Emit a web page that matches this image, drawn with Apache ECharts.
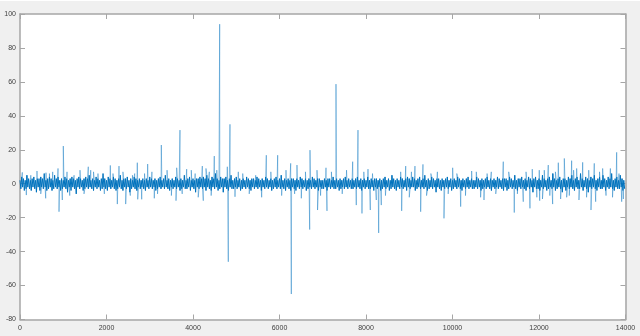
<!DOCTYPE html>
<html>
<head>
<meta charset="utf-8">
<script src="https://cdn.jsdelivr.net/npm/echarts@6/dist/echarts.min.js"></script>
<style>
html,body{margin:0;padding:0;background:#f0f0f0;}
#chart{width:640px;height:336px;}
</style>
</head>
<body>
<div id="chart"></div>
<script>
// x axis ticks / y axis ticks
const xTicks = [0, 2000, 4000, 6000, 8000, 10000, 12000, 14000];
const yTicks = [-80, -60, -40, -20, 0, 20, 40, 60, 80, 100];
// sample step of the base noise trace
const noiseStep = 20;
// base noise band (read as the envelope of the dense trace)
const noise = [
2,-3,4,-2,3,-4,2,-3,5,-2,3,-3,2,-4,3,-2,4,-3,2,-5,3,-2,3,-4,4,-2,3,-3,6,-2,2,-4,3,-3,4,
-2,3,-4,2,-3,5,-2,3,-3,4,-2,2,-4,3,-3,2,-2,4,-3,3,-5,2,-2,3,-4,4,-2,3,-3,2,-6,3,-2,4,-3,
3,-2,2,-4,3,-3,4,-2,3,-3,5,-2,2,-3,3,-4,2,-2,4,-3,3,-2,2,-4,3,-3,6,-2,3,-3,2,-4,4,-2,3,
-3,2,-2,4,-3,3,-4,2,-3,3,-2,5,-3,2,-4,3,-2,3,-3,4,-2,2,-5,3,-3,2,-2,4,-3,3,-4,2,-2,3,-3,
2,-2,3,-3,2,-4,3,-2,2,-3,4,-2,3,-3,2,-2,3,-4,2,-3,3,-2,4,-3,2,-2,3,-3,5,-2,2,-3,3,-4,2,
-2,3,-3,2,-2,4,-3,3,-2,2,-4,3,-3,2,-2,5,-3,2,-3,3,-2,4,-4,2,-2,3,-3,2,-5,3,-2,3,-3,4,-2,
3,-3,4,-2,3,-4,5,-2,3,-3,2,-4,4,-2,3,-3,6,-2,3,-4,2,-3,4,-2,3,-5,3,-2,4,-3,2,-4,3,-2,5,
-3,2,-3,3,-2,4,-3,2,-2,3,-4,2,-3,3,-2,2,-3,4,-2,3,-3,2,-4,3,-2,3,-3,2,-2,4,-3,3,-2,2,-4,
3,-2,2,-3,4,-2,3,-3,2,-2,3,-4,2,-3,3,-2,4,-3,2,-2,3,-3,5,-2,2,-3,3,-4,2,-2,3,-3,2,-4,3,
-2,3,-3,2,-4,3,-2,2,-3,4,-2,3,-3,2,-2,3,-4,2,-3,3,-2,2,-3,4,-2,3,-3,2,-2,3,-4,3,-2,2,-3,
2,-3,3,-2,2,-4,3,-2,3,-3,2,-2,4,-3,2,-3,3,-2,2,-4,3,-3,2,-2,3,-3,4,-2,2,-3,3,-2,2,-3,3,
-3,2,-2,3,-3,4,-2,2,-3,3,-4,2,-2,3,-3,2,-2,4,-3,2,-3,3,-2,2,-4,3,-2,3,-3,2,-2,3,-4,2,-3,
3,-2,4,-3,2,-2,3,-4,2,-3,5,-2,3,-3,2,-4,3,-2,2,-3,4,-2,3,-3,2,-2,3,-4,4,-2,3,-3,2,-2,4,
-2,3,-4,2,-3,3,-2,4,-3,2,-2,3,-3,5,-2,2,-4,3,-3,2,-2,4,-3,3,-2,2,-5,3,-2,3,-3,2,-4,3,-2,
2,-3,3,-2,4,-3,2,-2,3,-4,2,-3,3,-2,2,-3,4,-2,3,-3,2,-4,3,-2,2,-3,3,-2,4,-3,2,-2,3,-3,2,
-3,2,-2,4,-3,3,-2,2,-4,3,-3,2,-2,3,-3,4,-2,2,-3,3,-4,2,-2,3,-3,2,-2,4,-3,3,-2,2,-3,3,-4,
3,-2,3,-4,2,-3,4,-2,3,-3,2,-2,5,-3,2,-4,3,-2,3,-3,4,-2,2,-3,3,-4,2,-2,4,-3,3,-2,2,-5,3,
-2,4,-3,2,-3,3,-4,2,-2,5,-3,3,-2,2,-4,3,-3,4,-2,2,-3,6,-2,3,-4,2,-3,3,-2,4,-3,2,-5,3,-2,
3,-4,2,-2,4,-3,3,-2,5,-3,2,-4,3,-2,4,-3,2,-3,6,-2,3,-4,2,-2,4,-3,3,-5,2,-2,4,-3,3,-2,5,
-3,2,-4,3,-2,4,-3,2,-3,5,-2,3,-4,2,-2,4,-3,3,-2,6,-3,2,-4,3,-2,4,-3,2,-3,5,-2,3,-4,2,-3
];
// isolated spikes: sample index and value
const spikeX = [53,146,393,594,601,756,879,902,978,1001,1087,1387,1579,1635,1803,2088,2250,2289,2444,2652,2712,2722,2814,2952,3105,3267,3607,3623,3699,3854,3960,4215,4238,4377,4492,4617,4793,4816,4855,4971,5047,5588,5695,5958,6259,6273,6404,6504,6698,6705,6867,6880,7075,7098,7306,7692,7775,7815,7907,8046,8099,8238,8293,8353,8802,8825,8918,9132,9264,9317,9803,10004,10189,10443,10728,10897,11174,11428,11636,11791,11844,12006,12016,12122,12214,12316,12446,12585,12640,12755,12871,12924,13010,13202,13278,13310,13472,13796,13912];
const spikeY = [6.7,-6.7,7.5,-8.6,6.5,7,9,-16.5,-9.6,22.2,7,8,10,8,6,10.8,-12,10.4,-12,6,12.4,-9.2,-9.2,11.6,-8.6,22.8,-10,9.4,31.6,8.6,8,10.4,-10,7,16.3,94,10,-46,35,-7.7,7,-8,16.8,16.8,12,-65,11,-8.6,-27,19.8,8,-15.5,9.4,-16,58.7,13,-12.6,31.6,-17.5,8.6,-15.5,-9.6,-29,-12.6,7,-16,10.4,10.4,-16.5,11.4,-20.4,9.4,-13.5,7.5,-9.6,7,13,-17,-10.6,-14.5,8.6,8,-10,8,11,-12,12.4,14.9,-8,13.6,9,-9.6,12.6,-15.5,12,-10.6,9,18.5,-10.6];
// smaller excursions just outside the band
const minorX = [250,480,680,1150,1250,1480,1700,1950,2150,2380,2550,2600,2880,3050,3180,3400,3500,3750,4050,4120,4300,4420,4550,4700,5150,5300,5450,5800,6050,6150,6350,6600,6950,7200,7450,7550,7950,8150,8450,8600,9000,9050,9400,9500,9650,9900,10100,10300,10550,10650,10800,11000,11300,11500,11700,11950,12080,12250,12380,12500,12700,12800,13100,13150,13400,13550,13650,13700,13850,13950];
const minorY = [5,-6,6,-7,5,-6,7,-6,6,7,-7,5,6,7,-6,8,-7,-6,6,-8,9,-7,8,-6,6,-6,5,7,-7,8,-6,7,-7,7,-6,8,7,6,-7,6,-8,7,-7,6,7,-6,6,-7,7,-8,6,-6,7,-6,7,-8,-9,-7,7,-9,-7,8,-8,8,7,-7,9,-8,6,-9];

// dense band
const bandPts = noise.map((v, i) => [i * noiseStep, v]);
// spikes rising out of the band: each drawn from the band level at its neighbours
function spikeSeg(xs, ys) {
  const out = [];
  for (let i = 0; i < xs.length; i++) {
    const k = Math.floor(xs[i] / noiseStep);
    const a = bandPts[k], b = bandPts[Math.min(k + 1, bandPts.length - 1)];
    out.push(a, [xs[i], ys[i]], b, null);
  }
  return out;
}
const spikePts = spikeSeg(spikeX, spikeY).concat(spikeSeg(minorX, minorY));

const axisCol = '#a6a6a6';
const labelCol = '#404040';
const font = 'Liberation Sans, Arial, sans-serif';
const xMin = xTicks[0], xMax = xTicks[xTicks.length - 1], xInt = xTicks[1] - xTicks[0];
const yMin = yTicks[0], yMax = yTicks[yTicks.length - 1], yInt = yTicks[1] - yTicks[0];
function xAx(pos, show) {
  return {type:'value', position:pos, min:xMin, max:xMax, interval:xInt,
    axisLine:{show:true, onZero:false, lineStyle:{color:axisCol, width:1.5}},
    axisTick:{show:true, inside:true, length:5, lineStyle:{color:axisCol, width:1}},
    axisLabel:{show:show, color:labelCol, fontSize:7, fontFamily:font, margin:5, formatter:v => String(v)},
    splitLine:{show:false}};
}
function yAx(pos, show) {
  return {type:'value', position:pos, min:yMin, max:yMax, interval:yInt,
    axisLine:{show:true, onZero:false, lineStyle:{color:axisCol, width:1.5}},
    axisTick:{show:true, inside:true, length:5, lineStyle:{color:axisCol, width:1}},
    axisLabel:{show:show, color:labelCol, fontSize:7, fontFamily:font, margin:4, formatter:v => String(v)},
    splitLine:{show:false}};
}
const chart = echarts.init(document.getElementById('chart'), null, {renderer:'canvas'});
chart.setOption({
  animation:false,
  backgroundColor:'#f0f0f0',
  grid:{left:20, top:14, right:14.5, bottom:16.5, show:true, backgroundColor:'#ffffff', borderWidth:0},
  xAxis:[xAx('bottom', true), xAx('top', false)],
  yAxis:[yAx('left', true), yAx('right', false)],
  graphic:[{type:'rect', shape:{x:0, y:0, width:640, height:1}, style:{fill:'#ffffff'}, silent:true}],
  series:[
    {type:'line', xAxisIndex:0, yAxisIndex:0, data:spikePts, connectNulls:false, showSymbol:false, symbol:'none',
     sampling:null, lineStyle:{color:'#0072BD', width:0.7, opacity:0.6}, itemStyle:{color:'#0072BD'}, z:2},
    {type:'line', xAxisIndex:0, yAxisIndex:0, data:bandPts, showSymbol:false, symbol:'none',
     sampling:null, lineStyle:{color:'#0072BD', width:1}, itemStyle:{color:'#0072BD'}, z:3}
  ]
});
</script>
</body>
</html>
